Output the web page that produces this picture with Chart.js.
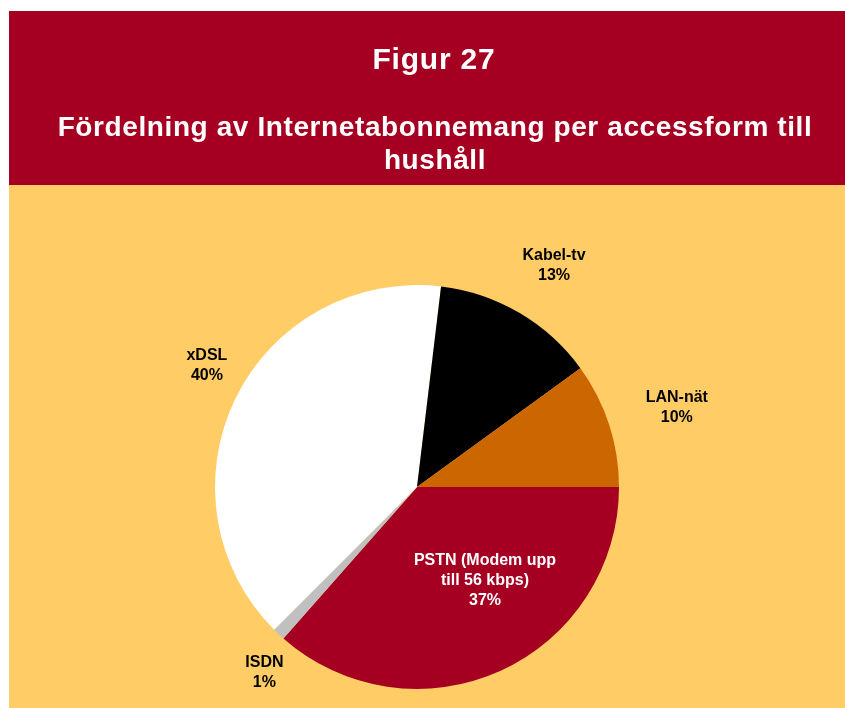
<!DOCTYPE html>
<html>
<head>
<meta charset="utf-8">
<script src="https://cdn.jsdelivr.net/npm/chart.js@4"></script>
<style>
html,body{margin:0;padding:0;background:#fff;}
#wrap{position:relative;width:845px;height:708px;}
</style>
</head>
<body>
<div id="wrap"><canvas id="c" width="845" height="708"></canvas></div>
<script>
const categories = ['PSTN (Modem upp till 56 kbps)', 'ISDN', 'xDSL', 'Kabel-tv', 'LAN-nät'];
const shares = [36.5, 1.0, 39.4, 13.1, 10.0];
const percentLabels = ['37%', '1%', '40%', '13%', '10%'];
const labelLines = [['PSTN (Modem upp', 'till 56 kbps)'], ['ISDN'], ['xDSL'], ['Kabel-tv'], ['LAN-nät']];
const sliceColors = ['#A50021', '#C0C0C0', '#FFFFFF', '#000000', '#CC6600'];
const titleLines = ['Figur 27', 'Fördelning av Internetabonnemang per accessform till', 'hushåll'];

// label placement: radial factor and angle tweak (degrees)
const labelPos = [
  {r: 0.574, da: -11.6, color: '#FFFFFF'},
  {r: 1.19, da: -3.8, color: '#000000'},
  {r: 1.20, da: 4, color: '#000000'},
  {r: 1.29, da: 1.3, color: '#000000'},
  {r: 1.345, da: 1, color: '#000000'}
];

const bgPlugin = {
  id: 'bg',
  beforeDraw(chart) {
    const ctx = chart.ctx;
    ctx.save();
    ctx.fillStyle = '#FFFFFF';
    ctx.fillRect(0, 0, 845, 708);
    ctx.fillStyle = '#FFCC66';
    ctx.fillRect(9, 11, 836, 697);
    ctx.fillStyle = '#A50021';
    ctx.fillRect(9, 11, 836, 174);
    ctx.fillStyle = '#FFFFFF';
    ctx.textAlign = 'center';
    ctx.textBaseline = 'alphabetic';
    ctx.letterSpacing = '0.8px';
    ctx.font = 'bold 30px "Liberation Sans", Arial, sans-serif';
    ctx.fillText(titleLines[0], 434, 69);
    ctx.letterSpacing = '0.6px';
    ctx.font = 'bold 28px "Liberation Sans", Arial, sans-serif';
    ctx.fillText(titleLines[1], 435, 136);
    ctx.fillText(titleLines[2], 435, 169);
    ctx.restore();
  }
};

const labelPlugin = {
  id: 'sliceLabels',
  afterDatasetsDraw(chart) {
    const ctx = chart.ctx;
    const meta = chart.getDatasetMeta(0);
    ctx.save();
    ctx.textAlign = 'center';
    ctx.textBaseline = 'middle';
    ctx.font = 'bold 16px "Liberation Sans", Arial, sans-serif';
    meta.data.forEach((arc, i) => {
      const p = arc.getProps(['x', 'y', 'startAngle', 'endAngle', 'outerRadius'], true);
      const mid = (p.startAngle + p.endAngle) / 2 + labelPos[i].da * Math.PI / 180;
      const rr = p.outerRadius * labelPos[i].r;
      const cx = p.x + Math.cos(mid) * rr;
      const cy = p.y + Math.sin(mid) * rr;
      const lines = labelLines[i].concat([percentLabels[i]]);
      const lh = 20;
      const y0 = cy - (lines.length - 1) * lh / 2;
      ctx.fillStyle = labelPos[i].color;
      lines.forEach((t, k) => ctx.fillText(t, cx, y0 + k * lh));
    });
    ctx.restore();
  }
};

new Chart(document.getElementById('c'), {
  type: 'pie',
  data: {
    labels: categories,
    datasets: [{
      data: shares,
      backgroundColor: sliceColors,
      borderWidth: 0
    }]
  },
  options: {
    responsive: false,
    animation: false,
    rotation: 90,
    layout: {padding: {top: 285, bottom: 19, left: 215, right: 226}},
    plugins: {
      legend: {display: false},
      tooltip: {enabled: false},
      title: {display: false}
    }
  },
  plugins: [bgPlugin, labelPlugin]
});
</script>
</body>
</html>
